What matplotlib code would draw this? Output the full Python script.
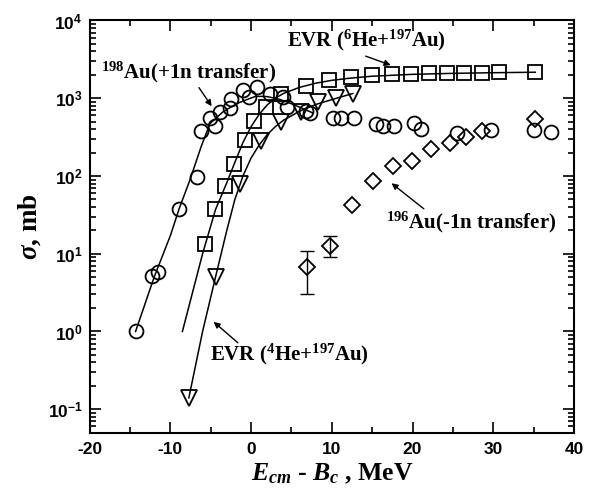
import numpy as np
import matplotlib.pyplot as plt
from matplotlib.ticker import MultipleLocator, LogLocator

plt.rcParams['mathtext.fontset'] = 'custom'
plt.rcParams['mathtext.rm'] = 'Liberation Serif:bold'
plt.rcParams['mathtext.it'] = 'Liberation Serif:italic:bold'
plt.rcParams['mathtext.bf'] = 'Liberation Serif:bold'
plt.rcParams['axes.unicode_minus'] = False

# 198Au (+1n transfer), circles
x_p1n = [-14.3, -12.3, -11.5, -8.9, -6.7, -6.2, -5.1, -4.5, -3.9, -2.6, -2.5, -1.0, -0.2,
         0.8, 2.3, 3.9, 4.5, 6.8, 7.3, 10.2, 11.1, 12.7, 15.5, 16.4, 17.7, 20.2, 21.1,
         25.5, 29.7, 35.1, 37.1]
y_p1n = [1.0, 5.2, 5.8, 38, 97, 380, 550, 435, 660, 740, 990, 1270, 1040,
         1390, 1120, 1040, 770, 690, 640, 560, 560, 565, 470, 435, 435, 476, 400,
         360, 386, 386, 367]
# fit curve for +1n
xc_p1n = [-14.3, -12.0, -10.0, -8.9, -7.6, -6.2, -5.1, -3.5, -1.8, -0.2, 0.6, 2.0, 3.5, 5.0, 6.5, 7.6]
yc_p1n = [1.0, 5.0, 17, 38, 87, 235, 470, 665, 850, 990, 1060, 1050, 970, 850, 730, 650]

# EVR 6He+197Au, squares
x_evr6 = [-5.65, -4.42, -3.27, -2.12, -0.8, 0.4, 1.8, 3.7, 6.8, 9.7, 12.4, 15.0, 17.5,
          19.8, 22.0, 24.3, 26.4, 28.6, 30.7, 35.2]
y_evr6 = [13.3, 37.8, 75, 144, 290, 509, 773, 1148, 1428, 1706, 1849, 1983, 2040,
          2040, 2085, 2085, 2118, 2118, 2183, 2183]
xc_evr6 = [-8.5, -6.0, -4.4, -3.0, -2.0, -1.0, 0.0, 1.0, 2.0, 3.0, 4.0, 6.0, 8.0, 10.0,
           12.0, 15.0, 20.0, 25.0, 30.0, 35.2]
yc_evr6 = [1.0, 10, 37, 82, 150, 270, 430, 620, 820, 1000, 1150, 1380, 1560, 1700,
           1800, 1920, 2030, 2090, 2130, 2160]

# EVR 4He+197Au, triangles
x_evr4 = [-7.7, -4.4, -1.42, 1.26, 3.73, 6.2, 8.25, 10.5, 12.6]
y_evr4 = [0.14, 5.0, 78, 280, 494, 665, 896, 1000, 1148]
xc_evr4 = [-7.7, -6.0, -4.4, -3.0, -2.0, -1.0, 0.0, 1.0, 2.0, 3.0, 4.0, 6.0, 8.0, 10.0, 12.6]
yc_evr4 = [0.14, 1.0, 5.0, 20, 50, 100, 170, 250, 340, 430, 520, 680, 830, 960, 1150]

# 196Au (-1n transfer), diamonds
x_m1n = [6.9, 9.78, 12.45, 15.1, 17.6, 19.9, 22.25, 24.6, 26.6, 28.6, 35.2]
y_m1n = [6.8, 12.7, 42.8, 85.7, 133, 154, 220, 265, 316, 375, 535]
err_lo = [3.8, 3.75, 0, 0, 0, 0, 0, 0, 0, 0, 0]
err_hi = [4.1, 4.0, 0, 0, 0, 0, 0, 0, 0, 0, 0]

fig = plt.figure(figsize=(5.97, 4.95), dpi=100)
ax = fig.add_axes([0.15, 0.126, 0.8115, 0.8326])

mk = dict(linestyle='none', markerfacecolor='none', markeredgecolor='k', markeredgewidth=1.3)
ax.plot(xc_p1n, yc_p1n, 'k-', lw=1.1)
ax.plot(xc_evr6, yc_evr6, 'k-', lw=1.1)
ax.plot(xc_evr4, yc_evr4, 'k-', lw=1.1)
ax.plot(x_p1n, y_p1n, marker='o', markersize=10, **mk)
ax.plot(x_evr6, y_evr6, marker='s', markersize=9.5, **mk)
ax.plot(x_evr4, y_evr4, marker='v', markersize=11, **mk)
ax.errorbar(x_m1n[:2], y_m1n[:2], yerr=[err_lo[:2], err_hi[:2]], fmt='none',
            ecolor='k', elinewidth=1, capsize=5, capthick=1)
ax.plot(x_m1n, y_m1n, marker='D', markersize=8, **mk)

ax.set_yscale('log')
ax.set_xlim(-20, 40)
ax.set_ylim(0.05, 1e4)
ax.xaxis.set_major_locator(MultipleLocator(10))
ax.xaxis.set_minor_locator(MultipleLocator(5))
ax.yaxis.set_major_locator(LogLocator(base=10, numticks=10))
ax.yaxis.set_minor_locator(LogLocator(base=10, subs=np.arange(2, 10), numticks=20))
ax.tick_params(which='both', direction='in', top=True, right=True, width=1.2)
ax.tick_params(which='major', length=8)
ax.tick_params(which='minor', length=4)
for s in ax.spines.values():
    s.set_linewidth(1.5)
for lab in ax.get_xticklabels() + ax.get_yticklabels():
    lab.set_fontfamily('Liberation Sans')
    lab.set_fontweight('bold')
    lab.set_fontsize(12.5)
ax.tick_params(axis='x', pad=7)
ax.tick_params(axis='y', pad=5)

ax.set_xlabel(r'$E_{cm}$ - $B_c$ , MeV', fontfamily='Liberation Serif',
              fontweight='bold', fontsize=18.5, labelpad=3)
ax.set_ylabel(r'$\sigma$, mb', fontfamily='Liberation Serif',
              fontweight='bold', fontsize=19.5, labelpad=3)

tfont = dict(fontfamily='Liberation Serif', fontweight='bold', fontsize=15)
arr = dict(arrowstyle='-|>', color='k', lw=1, mutation_scale=9, shrinkA=0, shrinkB=0)
ax.annotate(r'$\mathdefault{^{198}}$Au(+1n transfer)', xy=(-4.88, 789), xytext=(-18.6, 2160),
            ha='left', va='center', arrowprops=arr, **tfont)
ax.annotate(r'EVR ($\mathdefault{^{6}}$He+$\mathdefault{^{197}}$Au)', xy=(17.3, 2666),
            xytext=(4.5, 5600), ha='left', va='center', **tfont)
ax.annotate('', xy=(17.3, 2666), xytext=(14.2, 3480), arrowprops=arr)
ax.annotate(r'$\mathdefault{^{196}}$Au(-1n transfer)', xy=(17.4, 80.7), xytext=(16.7, 25.1),
            ha='left', va='center', **tfont)
ax.annotate('', xy=(17.4, 80.7), xytext=(21.4, 37.8), arrowprops=arr)
ax.annotate(r'EVR ($\mathdefault{^{4}}$He+$\mathdefault{^{197}}$Au)', xy=(-4.63, 1.33),
            xytext=(-5.1, 0.50), ha='left', va='center', **tfont)
ax.annotate('', xy=(-4.63, 1.33), xytext=(-1.63, 0.716), arrowprops=arr)

fig.savefig('out.png', dpi=100)
